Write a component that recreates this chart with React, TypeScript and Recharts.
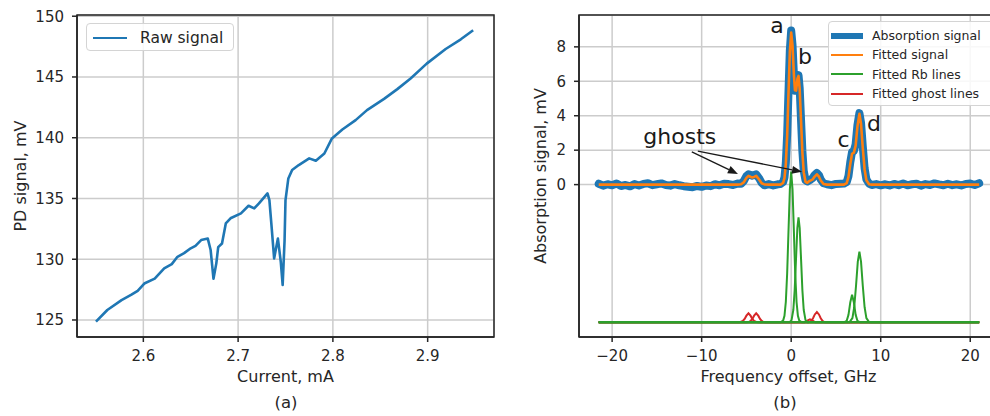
import { LineChart, Line, XAxis, YAxis, CartesianGrid, ReferenceLine, ReferenceDot, ReferenceArea } from "recharts";

const FONT = "'DejaVu Sans', sans-serif";
const INK = "#262626";
const GRID = "#cccccc";

// (a) raw photodiode signal vs laser current
const currentMa = [
  2.55, 2.562, 2.577, 2.587, 2.594, 2.601, 2.612, 2.622, 2.63, 2.636, 2.643, 2.65, 2.655, 2.661, 2.668,
  2.671, 2.674, 2.677, 2.679, 2.683, 2.687, 2.692, 2.703, 2.711, 2.717, 2.722, 2.731, 2.733, 2.735,
  2.738, 2.742, 2.745, 2.747, 2.749, 2.75, 2.753, 2.757, 2.764, 2.775, 2.782, 2.791, 2.799, 2.81,
  2.824, 2.836, 2.854, 2.868, 2.882, 2.899, 2.919, 2.935, 2.948,
];
const pdSignal = [
  124.86, 125.82, 126.64, 127.06, 127.4, 128.0, 128.4, 129.25, 129.6, 130.2, 130.5, 130.9, 131.1, 131.58, 131.7,
  130.76, 128.4, 129.66, 131.0, 131.3, 132.95, 133.37, 133.78, 134.4, 134.18, 134.6, 135.42, 134.87, 133.0,
  130.07, 131.7, 129.8, 127.88, 131.5, 134.87, 136.65, 137.34, 137.75, 138.3, 138.1, 138.7, 139.94, 140.68,
  141.45, 142.27, 143.2, 144.0, 144.88, 146.1, 147.3, 148.1, 148.85,
];
const currentTicks = [2.6, 2.7, 2.8, 2.9];
const pdTicks = [125, 130, 135, 140, 145, 150];

// (b) absorption spectrum vs frequency offset
const freqGHz = [
  -21.5, -21, -20.5, -20, -19.5, -19, -18.5, -18, -17.5, -17, -16.5, -16, -15.5, -15, -14.5, -14,
  -13.5, -13, -12.5, -12, -11.5, -11, -10.5, -10, -9.5, -9, -8.5, -8, -7.5, -7, -6.5, -6,
  -5.6, -5.3, -5.0, -4.77, -4.5, -4.34, -4.15, -3.91, -3.6, -3.3, -3.0, -2.5, -2.0, -1.5, -1.2, -0.9,
  -0.75, -0.6, -0.45, -0.3, -0.15, 0, 0.15, 0.3, 0.42, 0.55, 0.7, 0.82, 0.95, 1.1, 1.25, 1.4,
  1.6, 1.8, 2.0, 2.2, 2.4, 2.6, 2.87, 3.1, 3.3, 3.6, 4.0, 4.5, 5.0, 5.5, 5.9, 6.2,
  6.4, 6.6, 6.8, 7.0, 7.2, 7.4, 7.62, 7.8, 8.0, 8.2, 8.4, 8.7, 9.0, 9.5, 10.0,
  10.5, 11, 11.5, 12, 12.5, 13, 13.5, 14, 14.5, 15, 15.5, 16, 16.5, 17, 17.5, 18, 18.5, 19, 19.5, 20, 20.5, 21,
];
const absorptionSignal = [
  0.05, -0.06, 0.02, -0.04, 0.06, -0.08, -0.02, -0.1, 0.03, -0.05, 0.04, 0.08, -0.03, 0.02, 0.07, -0.02,
  -0.06, 0.03, -0.04, -0.09, -0.12, -0.15, -0.08, -0.13, -0.05, -0.09, 0.02, -0.04, 0.05, 0.03, -0.02, 0.06,
  0.05, 0.2, 0.5, 0.6, 0.55, 0.52, 0.56, 0.6, 0.38, 0.1, -0.04, 0.03, -0.05, 0.02, 0.04, 0.15,
  0.42, 1.25, 2.9, 5.4, 7.8, 8.95, 8.1, 6.4, 5.45, 5.5, 6.2, 6.35, 5.6, 3.75, 1.95, 0.8,
  0.25, 0.18, 0.24, 0.3, 0.38, 0.55, 0.68, 0.55, 0.3, 0.08, 0.02, -0.03, 0.04, 0.05, 0.06, 0.15,
  0.5, 1.3, 1.9, 1.95, 2.35, 3.45, 4.15, 3.6, 2.2, 0.95, 0.3, 0.06, -0.02, 0.03, -0.04,
  0.02, -0.05, 0.04, -0.03, 0.06, -0.04, 0.02, 0.05, -0.06, 0.03, -0.02, 0.07, 0.01, -0.04, 0.05, -0.03, 0.02, -0.05, 0.04, 0.06, -0.02, 0.08,
];
const fittedSignal = [
  0, 0, 0, 0, 0, 0, 0, 0, 0, 0, 0, 0, 0, 0, 0, 0,
  0, 0, 0, 0, 0, 0, 0, 0, 0, 0, 0, 0, 0, 0, 0, 0,
  0.02, 0.13, 0.39, 0.51, 0.44, 0.41, 0.45, 0.51, 0.31, 0.08, 0.01, 0, 0, 0, 0, 0.1,
  0.38, 1.18, 2.84, 5.31, 7.72, 8.83, 8.07, 6.4, 5.48, 5.46, 6.15, 6.31, 5.54, 3.71, 1.88, 0.72,
  0.16, 0.11, 0.2, 0.25, 0.3, 0.45, 0.6, 0.46, 0.24, 0.04, 0, 0, 0, 0, 0, 0.09,
  0.45, 1.2, 1.79, 1.86, 2.26, 3.38, 4.11, 3.53, 2.11, 0.88, 0.25, 0.02, 0, 0, 0,
  0, 0, 0, 0, 0, 0, 0, 0, 0, 0, 0, 0, 0, 0, 0, 0, 0, 0, 0, 0, 0, 0,
];

// individual fitted lines, drawn shifted down by 8 mV
const rbLineA: [number, number][] = [
  [-21.5, -8], [-1.2, -8], [-0.9, -7.9], [-0.75, -7.62], [-0.6, -6.82], [-0.45, -5.16], [-0.3, -2.69],
  [-0.15, -0.28], [0, 0.75], [0.15, -0.28], [0.3, -2.69], [0.45, -5.16], [0.6, -6.82], [0.75, -7.62],
  [0.9, -7.9], [1.2, -8], [21, -8],
];
const rbLineB: [number, number][] = [
  [-21.5, -8], [-0.2, -8], [0.04, -7.87], [0.24, -7.28], [0.39, -6.12], [0.54, -4.3], [0.69, -2.52],
  [0.82, -1.9], [0.95, -2.52], [1.1, -4.3], [1.25, -6.12], [1.4, -7.28], [1.6, -7.87], [1.85, -8], [21, -8],
];
const rbLineC: [number, number][] = [
  [-21.5, -8], [5.9, -8], [6.2, -7.91], [6.4, -7.56], [6.6, -6.84], [6.8, -6.4], [7.0, -6.84],
  [7.2, -7.56], [7.4, -7.91], [7.7, -8], [21, -8],
];
const rbLineD: [number, number][] = [
  [-21.5, -8], [6.5, -8], [6.84, -7.75], [7.04, -7.12], [7.24, -5.89], [7.44, -4.47], [7.62, -3.9],
  [7.8, -4.47], [8.0, -5.89], [8.2, -7.12], [8.4, -7.75], [8.7, -7.98], [9.0, -8], [21, -8],
];
const ghostLine1: [number, number][] = [
  [-21.5, -8], [-5.8, -8], [-5.4, -7.92], [-5.2, -7.8], [-5.0, -7.61], [-4.77, -7.47], [-4.54, -7.61],
  [-4.34, -7.8], [-4.15, -7.92], [-3.9, -7.98], [-3.6, -8], [21, -8],
];
const ghostLine2: [number, number][] = [
  [-21.5, -8], [-5.0, -8], [-4.74, -7.98], [-4.53, -7.92], [-4.34, -7.8], [-4.14, -7.61], [-3.91, -7.47],
  [-3.68, -7.61], [-3.48, -7.8], [-3.29, -7.92], [-3.08, -7.98], [-2.8, -8], [21, -8],
];
const ghostLine3: [number, number][] = [
  [-21.5, -8], [1.9, -8], [2.04, -7.98], [2.25, -7.91], [2.44, -7.76], [2.64, -7.54], [2.87, -7.4],
  [3.1, -7.54], [3.3, -7.76], [3.49, -7.91], [3.7, -7.98], [3.9, -8], [21, -8],
];
const ghostLine4: [number, number][] = [
  [-21.5, -8], [1.5, -8], [1.8, -7.9], [2.1, -7.82], [2.4, -7.9], [2.7, -8], [21, -8],
];
const freqTicks = [-20, -10, 0, 10, 20];
const absTicks = [0, 2, 4, 6, 8];

const peakLabels = [
  { text: "a", f: -1.59, v: 8.79 },
  { text: "b", f: 1.54, v: 7.0 },
  { text: "c", f: 5.85, v: 2.19 },
  { text: "d", f: 9.26, v: 3.11 },
  { text: "ghosts", f: -12.44, v: 2.36 },
];
const ghostArrows = [
  { from: { x: -11.1, y: 1.9 }, to: { x: -5.95, y: 0.62 } },
  { from: { x: -10.43, y: 1.95 }, to: { x: 1.21, y: 0.74 } },
];

const rawData = currentMa.map((x, i) => ({ x, y: pdSignal[i] }));
const specData = freqGHz.map((f, i) => ({ f, abs: absorptionSignal[i], fit: fittedSignal[i] }));
const toPts = (arr: [number, number][]) => arr.map(([f, v]) => ({ f, v }));

const RAW_X: [number, number] = [2.53, 2.97];
const RAW_Y: [number, number] = [123.6, 150.1];
const SPEC_X: [number, number] = [-23.7, 23.1];
const SPEC_Y: [number, number] = [-8.85, 9.85];

const tickStyle = { fill: INK, fontSize: 15, fontFamily: FONT };
const labelStyle = { fill: INK, fontSize: 16, fontFamily: FONT, textAnchor: "middle" as const };
const minus = (v: number) => (v < 0 ? `\u2212${Math.abs(v)}` : `${v}`);

const Arrow = (p: any) => {
  const { x1, y1, x2, y2 } = p;
  const dx = x2 - x1;
  const dy = y2 - y1;
  const len = Math.hypot(dx, dy) || 1;
  const ux = dx / len;
  const uy = dy / len;
  const bx = x2 - ux * 10;
  const by = y2 - uy * 10;
  const pts = `${x2},${y2} ${bx - uy * 4},${by + ux * 4} ${bx + uy * 4},${by - ux * 4}`;
  return (
    <g>
      <line x1={x1} y1={y1} x2={bx} y2={by} stroke="#1a1a1a" strokeWidth={1.3} />
      <polygon points={pts} fill="#1a1a1a" />
    </g>
  );
};

type LegendItem = { name: string; color: string; width: number };

const LegendBox = ({ items, left, top, width, rowH, fontSize, sample, textLeft }: {
  items: LegendItem[]; left: number; top: number; width: number; rowH: number;
  fontSize: number; sample: [number, number]; textLeft: number;
}) => (
  <div
    style={{
      position: "absolute", left, top, width, height: items.length * rowH + 8,
      border: "1px solid #d4d4d4", borderRadius: 4, background: "rgba(255,255,255,0.85)",
      boxSizing: "border-box", fontFamily: FONT, fontSize, color: INK,
    }}
  >
    {items.map((it, i) => (
      <div key={it.name} style={{ position: "absolute", left: 0, top: 4 + i * rowH, height: rowH, width: "100%" }}>
        <div
          style={{
            position: "absolute", left: sample[0], width: sample[1] - sample[0],
            top: rowH / 2 - it.width / 2, height: it.width, background: it.color,
          }}
        />
        <div style={{ position: "absolute", left: textLeft, top: 0, lineHeight: `${rowH}px`, whiteSpace: "nowrap" }}>
          {it.name}
        </div>
      </div>
    ))}
  </div>
);

const caption = (text: string, cx: number) => (
  <div
    style={{
      position: "absolute", left: cx - 30, width: 60, top: 393, textAlign: "center",
      fontFamily: FONT, fontSize: 16.5, color: INK, lineHeight: "20px",
    }}
  >
    {text}
  </div>
);

export default function App() {
  return (
    <div
      style={{
        position: "absolute", left: 0, top: 0, width: 990, height: 416,
        overflow: "hidden", background: "#fff", fontFamily: FONT,
      }}
    >
      <div style={{ position: "absolute", left: 0, top: 0 }}>
        <LineChart width={500} height={416} data={rawData} margin={{ top: 15, right: 6, bottom: 49, left: 0 }}>
          <CartesianGrid stroke={GRID} strokeWidth={1.5} />
          <ReferenceArea x1={RAW_X[0]} x2={RAW_X[1]} y1={RAW_Y[0]} y2={RAW_Y[1]} fill="none"
            fillOpacity={0} stroke={INK} strokeWidth={1.5} ifOverflow="visible" />
          <XAxis
            dataKey="x" type="number" domain={RAW_X} ticks={currentTicks} height={30}
            tickFormatter={(v) => v.toFixed(1)} tick={tickStyle} tickSize={5} tickMargin={8}
            stroke={INK} strokeWidth={1.5} allowDataOverflow
            label={{ value: "Current, mA", position: "bottom", offset: 4, style: labelStyle }}
          />
          <YAxis
            type="number" domain={RAW_Y} ticks={pdTicks} width={77} tick={tickStyle}
            tickSize={5} tickMargin={8} stroke={INK} strokeWidth={1.5} allowDataOverflow
            label={{ value: "PD signal, mV", angle: -90, position: "insideLeft", offset: 20, style: labelStyle }}
          />
          <Line dataKey="y" stroke="#1f77b4" strokeWidth={2.6} dot={false} isAnimationActive={false}
            strokeLinejoin="round" />
        </LineChart>
      </div>
      <LegendBox
        items={[{ name: "Raw signal", color: "#1f77b4", width: 2.6 }]}
        left={86} top={23} width={148} rowH={20} fontSize={15.5} sample={[6, 40]} textLeft={53}
      />
      {caption("(a)", 286)}

      <div style={{ position: "absolute", left: 500, top: 0 }}>
        <LineChart width={500} height={416} margin={{ top: 15, right: 2, bottom: 49, left: 0 }}>
          <CartesianGrid stroke={GRID} strokeWidth={1.5} />
          <ReferenceArea x1={SPEC_X[0]} x2={SPEC_X[1]} y1={SPEC_Y[0]} y2={SPEC_Y[1]} fill="none"
            fillOpacity={0} stroke={INK} strokeWidth={1.5} ifOverflow="visible" />
          <XAxis
            dataKey="f" type="number" domain={SPEC_X} ticks={freqTicks} height={30}
            tickFormatter={minus} tick={tickStyle} tickSize={5} tickMargin={8}
            stroke={INK} strokeWidth={1.5} allowDataOverflow
            label={{ value: "Frequency offset, GHz", position: "bottom", offset: 4, style: labelStyle }}
          />
          <YAxis
            type="number" domain={SPEC_Y} ticks={absTicks} width={79} tick={tickStyle}
            tickSize={5} tickMargin={8} stroke={INK} strokeWidth={1.5} allowDataOverflow
            label={{ value: "Absorption signal, mV", angle: -90, position: "insideLeft", offset: 40, style: labelStyle }}
          />
          <Line data={specData} dataKey="abs" stroke="#1f77b4" strokeWidth={8} dot={false}
            isAnimationActive={false} strokeLinejoin="round" strokeLinecap="round" />
          <Line data={specData} dataKey="fit" stroke="#ff7f0e" strokeWidth={2.6} dot={false}
            isAnimationActive={false} strokeLinejoin="round" />
          {[ghostLine1, ghostLine2, ghostLine3, ghostLine4].map((g, i) => (
            <Line key={`g${i}`} data={toPts(g)} dataKey="v" stroke="#d62728" strokeWidth={2}
              dot={false} isAnimationActive={false} />
          ))}
          {[rbLineA, rbLineB, rbLineC, rbLineD].map((g, i) => (
            <Line key={`rb${i}`} data={toPts(g)} dataKey="v" stroke="#2ca02c" strokeWidth={2}
              dot={false} isAnimationActive={false} />
          ))}
          {ghostArrows.map((a, i) => (
            <ReferenceLine key={`ar${i}`} segment={[a.from, a.to]} ifOverflow="visible" shape={Arrow} />
          ))}
          {peakLabels.map((l) => (
            <ReferenceDot
              key={l.text} x={l.f} y={l.v} r={0} ifOverflow="visible"
              shape={(p: any) => (
                <text x={p.cx} y={p.cy} textAnchor="middle" fontSize={22} fontFamily={FONT} fill="#1a1a1a">
                  {l.text}
                </text>
              )}
            />
          ))}
        </LineChart>
      </div>
      <LegendBox
        items={[
          { name: "Absorption signal", color: "#1f77b4", width: 6 },
          { name: "Fitted signal", color: "#ff7f0e", width: 2 },
          { name: "Fitted Rb lines", color: "#2ca02c", width: 2 },
          { name: "Fitted ghost lines", color: "#d62728", width: 2 },
        ]}
        left={828} top={21} width={166} rowH={19.3} fontSize={12.5} sample={[2, 34]} textLeft={43}
      />
      {caption("(b)", 785)}
    </div>
  );
}
